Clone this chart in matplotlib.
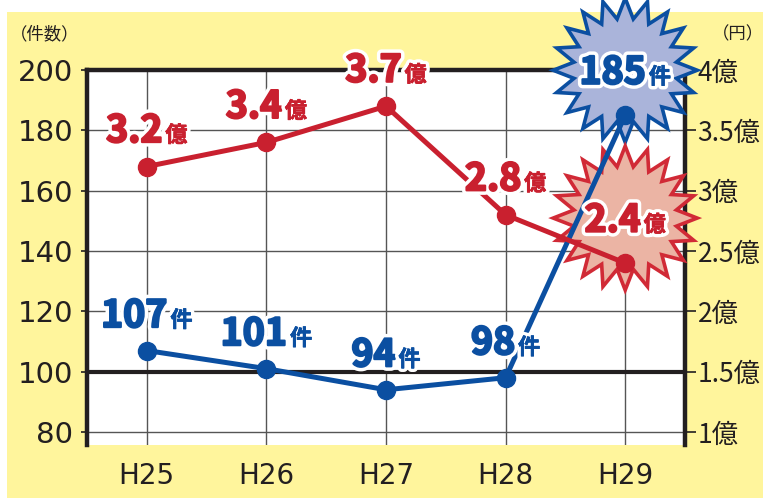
import numpy as np
import matplotlib
matplotlib.use("Agg")
import matplotlib.pyplot as plt
import matplotlib.patheffects as pe
import matplotlib.transforms as mtransforms
from matplotlib.patches import Polygon, Rectangle
from matplotlib.offsetbox import TextArea, HPacker, AnnotationBbox

plt.rcParams['font.family'] = ['Noto Sans CJK JP', 'DejaVu Sans']

years = ["H25", "H26", "H27", "H28", "H29"]
cases = [107, 101, 94, 98, 185]          # 件数 (left axis)
damage = [3.2, 3.4, 3.7, 2.8, 2.4]       # 被害額 億円 (right axis)
left_ticks = [80, 100, 120, 140, 160, 180, 200]
right_ticks = [1, 1.5, 2, 2.5, 3, 3.5, 4]

BLUE = "#0b4fa1"
RED = "#c9202f"
TXT = "#231f20"

fig = plt.figure(figsize=(7.63, 4.98), dpi=100, facecolor="white")
fig.patches.append(Rectangle((7/763, 0), 1, 1 - 12/498, transform=fig.transFigure,
                             facecolor="#fff59c", edgecolor="none", zorder=-10))

ax = fig.add_axes([87/763, 1 - 445/498, (685-87)/763, (445-70)/498])
ax.set_facecolor("white")
x = np.arange(len(years))
ax.set_xlim(-0.5, len(years) - 0.5)
ylo = 80 - 13/ (362/120)
ax.set_ylim(ylo, 200)
ax.set_yticks(left_ticks)
ax.set_yticklabels([str(v) for v in left_ticks], fontsize=21, color=TXT,
                   family=['DejaVu Sans'])
ax.set_xticks(x)
ax.set_xticklabels(years, fontsize=20, color=TXT, family=['DejaVu Sans'])
ax.tick_params(axis='x', length=0, pad=12)
ax.tick_params(axis='y', length=4, width=1.2, color=TXT, pad=6)
ax.grid(True, color="#555555", linewidth=1.0, zorder=0)
ax.set_axisbelow(True)
ax.axhline(100, color=TXT, linewidth=3.0, zorder=1)
for s in ax.spines.values():
    s.set_visible(False)

ax2 = ax.twinx()
ax2.set_ylim(1 + (ylo - 80) / 40, 4)
ax2.set_yticks(right_ticks)
ax2.set_yticklabels([(f"{v:g}") + "億" for v in right_ticks], fontsize=19, color=TXT)
ax2.tick_params(axis='y', length=8, width=1.2, color=TXT, pad=1)
for k in ["left", "right", "top"]:
    ax2.spines[k].set_linewidth(3.2)
    ax2.spines[k].set_color(TXT)
ax2.spines["bottom"].set_visible(False)


def star_verts(n, inner):
    ang = np.linspace(0, 2*np.pi, 2*n, endpoint=False) + np.pi/2
    r = np.where(np.arange(2*n) % 2 == 0, 1.0, inner)
    return np.column_stack([r*np.cos(ang), r*np.sin(ang)])


def add_star(axis_data_tr, xv, yv, R, fc, ec, dy=45):
    tr = (mtransforms.Affine2D().scale(R).translate(0, dy)
          + mtransforms.ScaledTranslation(xv, yv, axis_data_tr))
    p = Polygon(star_verts(20, 0.72), closed=True, transform=tr, facecolor=fc,
                edgecolor=ec, linewidth=2.6, zorder=3, clip_on=False, joinstyle='miter')
    ax2.add_patch(p)


add_star(ax.transData, x[-1], cases[-1], 72, "#aab4da", BLUE)
add_star(ax2.transData, x[-1], damage[-1], 72, "#ebb4a4", "#d12a36")

ax2.plot(x, cases, color=BLUE, linewidth=3.6, marker='o', markersize=13,
         transform=ax.transData, zorder=5, clip_on=False)
ax2.plot(x, damage, color=RED, linewidth=3.6, marker='o', markersize=13,
         zorder=5, clip_on=False)


def effects(color, w):
    return [pe.withStroke(linewidth=w + 5, foreground="white"),
            pe.Stroke(linewidth=w, foreground=color), pe.Normal()]


def label(tr_axis, xv, yv, num, unit, color, dy):
    t1 = TextArea(num, textprops=dict(fontsize=27, fontweight='bold', color=color,
                                      path_effects=effects(color, 1.6)))
    t2 = TextArea(unit, textprops=dict(fontsize=16, fontweight='bold', color=color,
                                       path_effects=effects(color, 0.4)))
    box = HPacker(children=[t1, t2], align="baseline", pad=0, sep=2)
    ab = AnnotationBbox(box, (xv, yv), xycoords=tr_axis, xybox=(0, dy),
                        boxcoords="offset pixels", frameon=False,
                        box_alignment=(0.5, 0.5), zorder=6,
                        annotation_clip=False)
    ax2.add_artist(ab)


for i in range(len(years)):
    dy_c = 43 if i == len(years) - 1 else 35
    label(ax.transData, x[i], cases[i], f"{cases[i]}", "件", BLUE, dy_c)
    dy_d = 43 if i == len(years) - 1 else 36
    label(ax2.transData, x[i], damage[i], f"{damage[i]:g}", "億", RED, dy_d)

fig.text(10/763, 1 - 34/498, "（件数）", fontsize=12.5, color=TXT, va='center', ha='left')
fig.text(712/763, 1 - 34/498, "（円）", fontsize=12.5, color=TXT, va='center', ha='left')

fig.savefig("out.png", dpi=100, facecolor=fig.get_facecolor())
